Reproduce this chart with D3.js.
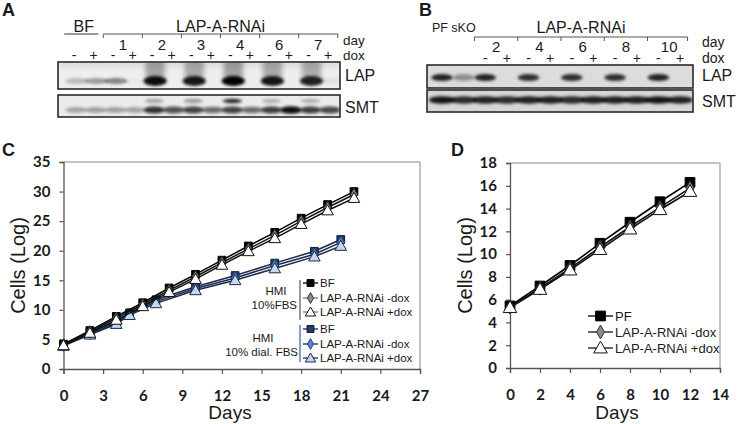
<!DOCTYPE html>
<html><head><meta charset="utf-8">
<script src="https://cdn.jsdelivr.net/npm/d3@7"></script>
<style>body{margin:0;background:#fff}svg{display:block}</style>
</head><body>
<svg id="fig" width="750" height="424"></svg>
<script>
// ---------- DATA ----------
// Panel A western blot (lanes = group x dox)
const aGroups = ["BF", "1", "2", "3", "4", "6", "7"];
const doses = ["-", "+"];
const aLAP = [0.22, 0.35, 0.45, 0.02, 0.95, 0, 0.9, 0, 1, 0, 0.9, 0, 0.85, 0.06];
const aSMT = [0.3, 0.32, 0.32, 0.3, 0.8, 0.65, 0.72, 0.55, 0.72, 0.55, 0.75, 0.95, 0.75, 0.7];
const aSMTupper = [0, 0, 0, 0, 0.3, 0, 0.35, 0, 0.85, 0, 0.25, 0, 0.25, 0];
// Panel B western blot
const bLanes = ["PF", "sKO", "2-", "2+", "4-", "4+", "6-", "6+", "8-", "8+", "10-", "10+"];
const bGroups = ["2", "4", "6", "8", "10"];
const bLAP = [0.85, 0.35, 0.85, 0, 0.8, 0, 0.8, 0, 0.8, 0, 0.85, 0];
const bSMT = [0.9, 0.8, 0.85, 0.8, 0.85, 0.85, 0.8, 0.85, 0.85, 0.85, 0.9, 0.85];

// Panel C growth curves
const cDaysFBS = [0, 2, 4, 6, 8, 10, 12, 14, 16, 18, 20, 22];
const cBF_FBS = [4.2, 6.5, 8.9, 11.2, 13.7, 16.0, 18.4, 20.8, 23.1, 25.5, 27.8, 30.0];
const cMinus_FBS = [4.1, 6.3, 8.6, 10.9, 13.3, 15.6, 18.0, 20.3, 22.6, 25.0, 27.3, 29.5];
const cPlus_FBS = [4.0, 6.1, 8.3, 10.6, 13.0, 15.2, 17.6, 19.9, 22.1, 24.5, 26.8, 28.9];
const cDaysDial = [0, 2, 4, 5, 7, 10, 13, 16, 19, 21];
const cBF_Dial = [4.1, 6.2, 8.0, 9.5, 11.7, 13.9, 15.8, 17.9, 19.9, 21.9];
const cMinus_Dial = [4.0, 6.0, 7.8, 9.3, 11.4, 13.6, 15.4, 17.5, 19.4, 21.4];
const cPlus_Dial = [3.9, 5.8, 7.6, 9.1, 11.1, 13.3, 15.0, 17.0, 19.0, 20.8];
const cXTicks = [0, 3, 6, 9, 12, 15, 18, 21, 24, 27];
const cYTicks = [0, 5, 10, 15, 20, 25, 30, 35];

// Panel D growth curves
const dDays = [0, 2, 4, 6, 8, 10, 12];
const dPF = [5.45, 7.2, 9.0, 10.95, 12.8, 14.6, 16.3];
const dMinus = [5.35, 7.0, 8.75, 10.6, 12.4, 14.1, 15.8];
const dPlus = [5.3, 6.9, 8.6, 10.4, 12.2, 13.9, 15.5];
const dXTicks = [0, 2, 4, 6, 8, 10, 12, 14];
const dYTicks = [0, 2, 4, 6, 8, 10, 12, 14, 16, 18];

// ---------- DRAWING ----------
const svg = d3.select("#fig");
const SANS = "'Liberation Sans', Arial, sans-serif";
const TICKF = "Lato, 'Open Sans', sans-serif";
const defs = svg.append("defs");
defs.append("filter").attr("id", "blur").attr("x", "-50%").attr("y", "-50%").attr("width", "200%").attr("height", "200%")
  .append("feGaussianBlur").attr("stdDeviation", 1.6);
defs.append("filter").attr("id", "blur2").attr("x", "-50%").attr("y", "-50%").attr("width", "200%").attr("height", "200%")
  .append("feGaussianBlur").attr("stdDeviation", 2.6);

function text(g, x, y, s, opt = {}) {
  return g.append("text").attr("x", x).attr("y", y).text(s)
    .attr("font-family", opt.font || SANS).attr("font-size", opt.size || 14)
    .attr("font-weight", opt.weight || "normal")
    .attr("text-anchor", opt.anchor || "start").attr("fill", opt.fill || "#1a1a1a");
}

// panel letters
[["A", 2, 16], ["B", 419, 16], ["C", 2, 156], ["D", 451, 156]].forEach(([l, x, y]) =>
  text(svg, x, y, l, { size: 18, weight: "bold" }));

function blotBox(g, x0, x1, y0, y1, bg, id) {
  defs.append("clipPath").attr("id", id).append("rect").attr("x", x0).attr("y", y0).attr("width", x1 - x0).attr("height", y1 - y0);
  g.append("rect").attr("x", x0).attr("y", y0).attr("width", x1 - x0).attr("height", y1 - y0).attr("fill", bg);
  return g.append("g").attr("clip-path", `url(#${id})`);
}
function frame(g, x0, x1, y0, y1) {
  g.append("rect").attr("x", x0).attr("y", y0).attr("width", x1 - x0).attr("height", y1 - y0)
    .attr("fill", "none").attr("stroke", "#2a2a2a").attr("stroke-width", 1.6);
}

// ---- Panel A ----
(function () {
  const g = svg.append("g");
  const lanes = aGroups.flatMap(gr => doses.map(d => gr + d));
  const x = d3.scalePoint().domain(lanes).range([74, 328]);
  const st = x.step();
  const mid = gr => (x(gr + "-") + x(gr + "+")) / 2;
  text(g, mid("BF"), 32, "BF", { anchor: "middle", size: 16 });
  g.append("line").attr("x1", x("BF-") - st * 0.5).attr("x2", x("BF+") + st * 0.25).attr("y1", 34).attr("y2", 34).attr("stroke", "#333");
  const rn = aGroups.slice(1);
  const bx0 = (x("BF+") + x("1-")) / 2, bx1 = x("7+") + st * 0.5;
  text(g, (bx0 + bx1) / 2, 32, "LAP-A-RNAi", { anchor: "middle", size: 16 });
  const br = [bx0, ...rn.slice(0, -1).map((gr, i) => (x(gr + "+") + x(rn[i + 1] + "-")) / 2), bx1];
  g.append("line").attr("x1", bx0).attr("x2", bx1).attr("y1", 34).attr("y2", 34).attr("stroke", "#555");
  br.forEach(v => g.append("line").attr("x1", v).attr("x2", v).attr("y1", 34).attr("y2", 38).attr("stroke", "#555"));
  rn.forEach(gr => text(g, mid(gr), 50, gr, { anchor: "middle", size: 15 }));
  lanes.forEach(l => text(g, x(l), 60, l.slice(-1), { anchor: "middle", size: 14 }));
  text(g, 343, 44.5, "day", { size: 13.5 });
  text(g, 343, 60, "dox", { size: 13.5 });
  const lap = blotBox(g, 58, 340, 62, 89, "#eeeeee", "clipA1");
  lap.append("rect").attr("x", 58).attr("y", 62).attr("width", 282).attr("height", 5).attr("fill", "#d8d8d8").attr("filter", "url(#blur2)");
  lanes.forEach((l, i) => {
    const v = aLAP[i]; if (v <= 0) return;
    if (v > 0.6) {
      lap.append("rect").attr("x", x(l) - st * 0.5 + 3).attr("y", 58).attr("width", st * 1.0).attr("height", 22)
        .attr("rx", 6).attr("fill", "#000").attr("opacity", v * 0.32).attr("filter", "url(#blur2)");
    }
    lap.append("ellipse").attr("cx", x(l) + 3).attr("cy", 81).attr("rx", st * 0.6).attr("ry", v > 0.6 ? 5 : 3)
      .attr("fill", "#000").attr("opacity", v).attr("filter", "url(#blur)");
  });
  frame(g, 58, 340, 62, 89);
  const smt = blotBox(g, 58, 340, 95, 117, "#ebebeb", "clipA2");
  lanes.forEach((l, i) => {
    smt.append("ellipse").attr("cx", x(l) + 2).attr("cy", 110).attr("rx", st * 0.55).attr("ry", 2.6 + aSMT[i] * 1.2)
      .attr("fill", "#000").attr("opacity", aSMT[i]).attr("filter", "url(#blur)");
    if (aSMTupper[i] > 0)
      smt.append("ellipse").attr("cx", x(l) + 2).attr("cy", 101).attr("rx", st * 0.5).attr("ry", 2.2)
        .attr("fill", "#000").attr("opacity", aSMTupper[i]).attr("filter", "url(#blur)");
  });
  frame(g, 58, 340, 95, 117);
  text(g, 345, 81, "LAP", { size: 16 });
  text(g, 345, 113, "SMT", { size: 16 });
})();

// ---- Panel B ----
(function () {
  const g = svg.append("g");
  const x = d3.scalePoint().domain(bLanes).range([442, 680]);
  const st = x.step();
  text(g, (x("PF") + x("sKO")) / 2 + 1, 32, "PF sKO", { anchor: "middle", size: 12.5 });
  const bx0 = (x("sKO") + x("2-")) / 2, bx1 = x("10+") + st * 0.35;
  text(g, (bx0 + bx1) / 2, 33, "LAP-A-RNAi", { anchor: "middle", size: 16 });
  g.append("line").attr("x1", bx0).attr("x2", bx1).attr("y1", 37).attr("y2", 37).attr("stroke", "#555");
  const br = [bx0, ...bGroups.slice(0, -1).map((gr, i) => (x(gr + "+") + x(bGroups[i + 1] + "-")) / 2), bx1];
  br.forEach(v => g.append("line").attr("x1", v).attr("x2", v).attr("y1", 37).attr("y2", 41).attr("stroke", "#555"));
  bGroups.forEach(gr => text(g, (x(gr + "-") + x(gr + "+")) / 2, 52, gr, { anchor: "middle", size: 15 }));
  bLanes.slice(2).forEach(l => text(g, x(l), 63, l.slice(-1), { anchor: "middle", size: 14 }));
  text(g, 702, 47, "day", { size: 14 });
  text(g, 702, 63, "dox", { size: 14 });
  const lap = blotBox(g, 427, 693, 65, 88, "#dcdcdc", "clipB1");
  bLanes.forEach((l, i) => {
    const v = bLAP[i]; if (v <= 0) return;
    lap.append("ellipse").attr("cx", x(l)).attr("cy", 77.5).attr("rx", st * 0.5).attr("ry", 3.6)
      .attr("fill", "#000").attr("opacity", v).attr("filter", "url(#blur)");
  });
  frame(g, 427, 693, 65, 88);
  const smt = blotBox(g, 427, 693, 90, 112, "#d6d6d6", "clipB2");
  bLanes.forEach((l, i) => {
    smt.append("ellipse").attr("cx", x(l)).attr("cy", 100).attr("rx", st * 0.6).attr("ry", 3.8)
      .attr("fill", "#000").attr("opacity", bSMT[i]).attr("filter", "url(#blur)");
  });
  frame(g, 427, 693, 90, 112);
  text(g, 702, 81, "LAP", { size: 16 });
  text(g, 702, 107, "SMT", { size: 16 });
})();

// ---- line charts ----
const shapes = { square: d3.symbolSquare, diamond: d3.symbolDiamond, triangle: d3.symbolTriangle };
function drawSeries(g, x, y, days, vals, st) {
  g.append("path").datum(days.map((d, i) => [d, vals[i]]))
    .attr("d", d3.line().x(d => x(d[0])).y(d => y(d[1])))
    .attr("fill", "none").attr("stroke", st.line).attr("stroke-width", st.lw || 1.5);
  g.selectAll(null).data(days.map((d, i) => [d, vals[i]])).join("path")
    .attr("transform", d => `translate(${x(d[0])},${y(d[1]) + (st.shape === "triangle" ? 1 : 0)})`)
    .attr("d", d3.symbol().type(shapes[st.shape]).size(st.size))
    .attr("fill", st.fill).attr("stroke", st.stroke).attr("stroke-width", 1);
}
function legendItem(g, x0, x1, y, label, st, fs) {
  g.append("line").attr("x1", x0).attr("x2", x1).attr("y1", y).attr("y2", y).attr("stroke", st.line).attr("stroke-width", 1.3);
  g.append("path").attr("transform", `translate(${(x0 + x1) / 2},${y + (st.shape === "triangle" ? 1 : 0)})`)
    .attr("d", d3.symbol().type(shapes[st.shape]).size(st.lsize || st.size)).attr("fill", st.fill).attr("stroke", st.stroke);
  text(g, x1 + 2, y + fs * 0.36, label, { size: fs });
}
function axes(g, x, y, xt, yt, x0, x1, y0, y1) {
  g.append("line").attr("x1", x0).attr("x2", x1).attr("y1", y1).attr("y2", y1).attr("stroke", "#888");
  g.append("line").attr("x1", x1).attr("x2", x1).attr("y1", y1).attr("y2", y0).attr("stroke", "#888");
  const xa = g.append("g").attr("transform", `translate(0,${y0})`)
    .call(d3.axisBottom(x).tickValues(xt).tickSize(5).tickPadding(16));
  const ya = g.append("g").attr("transform", `translate(${x0},0)`)
    .call(d3.axisLeft(y).tickValues(yt).tickSize(4).tickPadding(9));
  [xa, ya].forEach(a => {
    a.select(".domain").attr("stroke", "#555").attr("stroke-width", 1.3);
    a.selectAll(".tick line").attr("stroke", "#555").attr("stroke-width", 1.2);
    a.selectAll(".tick text").attr("font-family", TICKF).attr("font-weight", "bold").attr("font-size", 15).attr("fill", "#1a1a1a");
  });
}

// Panel C
(function () {
  const g = svg.append("g");
  const x = d3.scaleLinear().domain([0, 27]).range([63.5, 420]);
  const y = d3.scaleLinear().domain([0, 35]).range([369, 162]);
  axes(g, x, y, cXTicks, cYTicks, 63.5, 420, 369, 162);
  const S = {
    bf: { line: "#000", shape: "square", size: 60, fill: "#000", stroke: "#000" },
    mi: { line: "#111", shape: "diamond", size: 42, fill: "#8a8a8a", stroke: "#333" },
    pl: { line: "#111", shape: "triangle", size: 58, fill: "#fff", stroke: "#111" },
    bfD: { line: "#1b2a4a", shape: "square", size: 60, fill: "#233a6b", stroke: "#0f1d3a" },
    miD: { line: "#1b2a4a", shape: "diamond", size: 42, fill: "#5b86c4", stroke: "#2b4b80" },
    plD: { line: "#1b2a4a", shape: "triangle", size: 58, fill: "#c4d8f0", stroke: "#1b2a4a" }
  };
  drawSeries(g, x, y, cDaysDial, cBF_Dial, S.bfD);
  drawSeries(g, x, y, cDaysDial, cMinus_Dial, S.miD);
  drawSeries(g, x, y, cDaysDial, cPlus_Dial, S.plD);
  drawSeries(g, x, y, cDaysFBS, cBF_FBS, S.bf);
  drawSeries(g, x, y, cDaysFBS, cMinus_FBS, S.mi);
  drawSeries(g, x, y, cDaysFBS, cPlus_FBS, S.pl);
  g.append("line").attr("x1", 300).attr("x2", 300).attr("y1", 280).attr("y2", 320).attr("stroke", "#777").attr("stroke-width", 1.5);
  g.append("line").attr("x1", 300).attr("x2", 300).attr("y1", 325).attr("y2", 362).attr("stroke", "#3a5a9a").attr("stroke-width", 1.2);
  const fs = 11.5;
  const lS = k => Object.assign({}, S[k], { lsize: S[k].size * 0.8, line: k.endsWith("D") ? "#1b2a4a" : (k === "bf" ? "#000" : "#777") });
  legendItem(g, 303, 318, 283, "BF", lS("bf"), fs);
  legendItem(g, 303, 318, 298, "LAP-A-RNAi -dox", lS("mi"), fs);
  legendItem(g, 303, 318, 312, "LAP-A-RNAi +dox", lS("pl"), fs);
  legendItem(g, 303, 318, 329, "BF", lS("bfD"), fs);
  legendItem(g, 303, 318, 344, "LAP-A-RNAi -dox", lS("miD"), fs);
  legendItem(g, 303, 318, 358, "LAP-A-RNAi +dox", lS("plD"), fs);
  text(g, 276, 295, "HMI", { anchor: "middle", size: fs });
  text(g, 297, 309, "10%FBS", { anchor: "end", size: fs });
  text(g, 263, 342, "HMI", { anchor: "middle", size: fs });
  text(g, 298, 356, "10% dial. FBS", { anchor: "end", size: fs });
  text(g, 230, 419, "Days", { anchor: "middle", size: 19 });
  text(g, 0, 0, "Cells (Log)", { anchor: "middle", size: 20 }).attr("transform", `translate(25,${(162 + 369) / 2}) rotate(-90)`);
})();

// Panel D
(function () {
  const g = svg.append("g");
  const x = d3.scaleLinear().domain([0, 14]).range([510, 720]);
  const y = d3.scaleLinear().domain([0, 18]).range([368, 163]);
  axes(g, x, y, dXTicks, dYTicks, 510, 720, 368, 163);
  const S = {
    pf: { line: "#000", shape: "square", size: 95, fill: "#000", stroke: "#000", lw: 1.6 },
    mi: { line: "#111", shape: "diamond", size: 55, fill: "#8a8a8a", stroke: "#333", lw: 1.6 },
    pl: { line: "#111", shape: "triangle", size: 80, fill: "#fff", stroke: "#111", lw: 1.6 }
  };
  drawSeries(g, x, y, dDays, dPF, S.pf);
  drawSeries(g, x, y, dDays, dMinus, S.mi);
  drawSeries(g, x, y, dDays, dPlus, S.pl);
  const fs = 13;
  legendItem(g, 588, 613, 316, "PF", S.pf, fs);
  legendItem(g, 588, 613, 332, "LAP-A-RNAi -dox", S.mi, fs);
  legendItem(g, 588, 613, 348, "LAP-A-RNAi +dox", S.pl, fs);
  text(g, 617, 419, "Days", { anchor: "middle", size: 19 });
  text(g, 0, 0, "Cells (Log)", { anchor: "middle", size: 20 }).attr("transform", `translate(472,${(163 + 368) / 2}) rotate(-90)`);
})();
</script>
</body></html>
